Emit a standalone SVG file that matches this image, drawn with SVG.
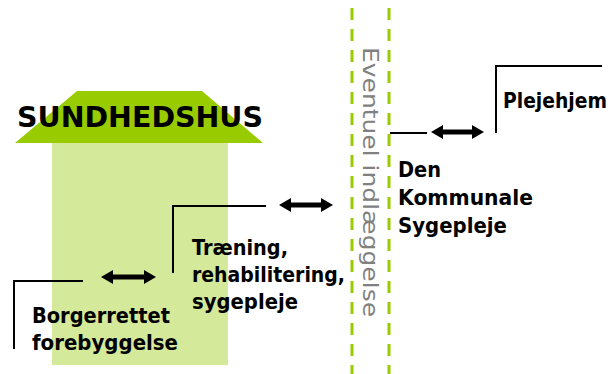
<svg xmlns="http://www.w3.org/2000/svg" width="616" height="374" viewBox="0 0 616 374">
<defs>
<style>
.lbl{font-family:"DejaVu Sans","Liberation Sans",sans-serif;font-weight:bold;font-size:20.5px;fill:#000}
.conn{fill:none;stroke:#000;stroke-width:2}
.arrow{stroke:#000;stroke-width:5;marker-start:url(#head);marker-end:url(#head)}
.dash{stroke:#99cc00;stroke-width:3;stroke-dasharray:12 9}
</style>
<marker id="head" markerUnits="userSpaceOnUse" markerWidth="13" markerHeight="18" refX="1" refY="9" orient="auto-start-reverse">
<path d="M0,2 L12,9 L0,16 Z" fill="#000"/>
</marker>
</defs>
<rect width="616" height="374" fill="#fff"/>
<g id="sundhedshus">
<rect x="52" y="143" width="176" height="222" fill="#d4e99a"/>
<polygon points="77,91 202,91 263,143 15,143" fill="#99cc00"/>
<text x="17" y="127" font-family="DejaVu Sans, Liberation Sans, sans-serif" font-weight="bold" font-size="27.5" textLength="246" lengthAdjust="spacingAndGlyphs">SUNDHEDSHUS</text>
</g>
<g id="indlaeggelse">
<line class="dash" x1="352" y1="-13" x2="352" y2="374"/>
<line class="dash" x1="389" y1="-13" x2="389" y2="374"/>
<text transform="translate(363,47) rotate(90)" font-family="DejaVu Sans, Liberation Sans, sans-serif" font-size="22" fill="#808080" textLength="270" lengthAdjust="spacingAndGlyphs">Eventuel indlæggelse</text>
</g>
<g id="borger">
<text class="lbl" x="32" y="323" textLength="138" lengthAdjust="spacingAndGlyphs">Borgerrettet</text>
<text class="lbl" x="32" y="350" textLength="146" lengthAdjust="spacingAndGlyphs">forebyggelse</text>
</g>
<g id="traening">
<text class="lbl" x="192" y="255" textLength="96" lengthAdjust="spacingAndGlyphs">Træning,</text>
<text class="lbl" x="192" y="282" textLength="153" lengthAdjust="spacingAndGlyphs">rehabilitering,</text>
<text class="lbl" x="192" y="309" textLength="106" lengthAdjust="spacingAndGlyphs">sygepleje</text>
</g>
<g id="sygepleje">
<text class="lbl" x="398" y="177" textLength="43" lengthAdjust="spacingAndGlyphs">Den</text>
<text class="lbl" x="398" y="205" textLength="135" lengthAdjust="spacingAndGlyphs">Kommunale</text>
<text class="lbl" x="398" y="233" textLength="109" lengthAdjust="spacingAndGlyphs">Sygepleje</text>
</g>
<g id="plejehjem">
<text class="lbl" x="503" y="108" textLength="104" lengthAdjust="spacingAndGlyphs">Plejehjem</text>
</g>
<g id="connectors">
<polyline class="conn" points="14,349 14,281 83,281"/>
<polyline class="conn" points="173,273 173,206 266,206"/>
<polyline class="conn" points="390,133 427,133"/>
<polyline class="conn" points="496,133 496,66 602,66"/>
<line class="arrow" x1="112" y1="277" x2="145" y2="277"/>
<line class="arrow" x1="290" y1="205" x2="322" y2="205"/>
<line class="arrow" x1="442" y1="132" x2="473" y2="132"/>
</g>
</svg>
